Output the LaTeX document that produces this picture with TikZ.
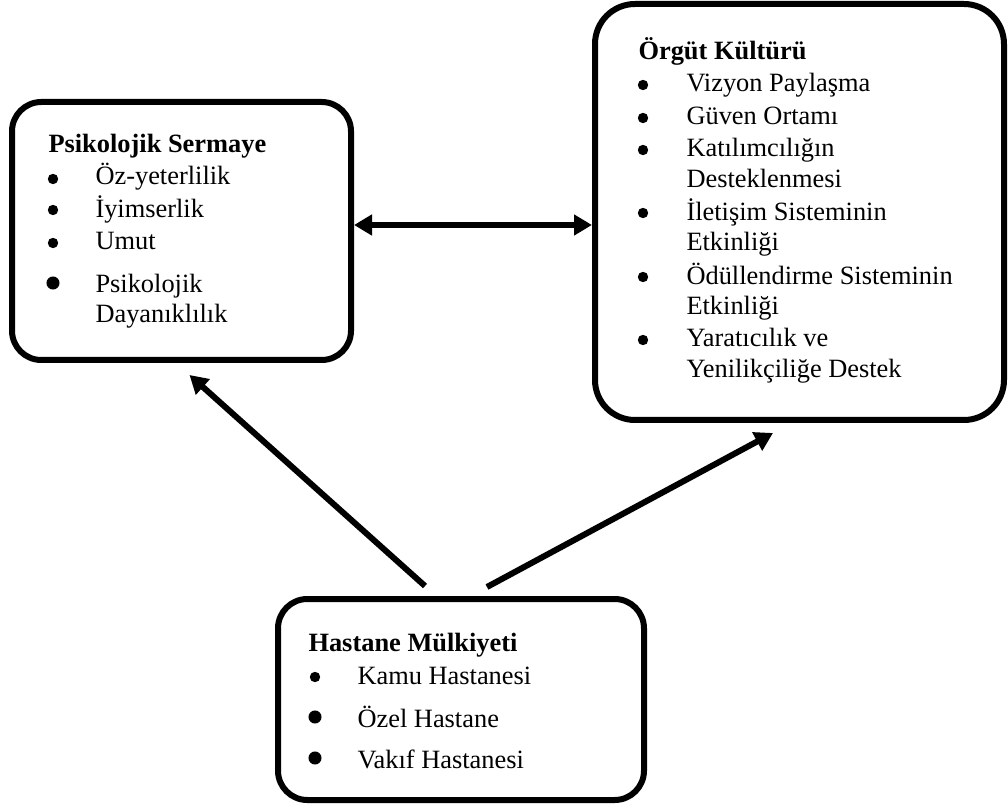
\documentclass[tikz,border=0pt]{standalone}
\usepackage{fontspec}
\setmainfont{Liberation Serif}
\usetikzlibrary{arrows.meta}

\tikzset{every picture/.style={line width=0.75pt}}
\tikzset{
  box/.style={draw, line width=4.5pt, rounded corners=22pt, inner sep=0pt},
  arr/.style={line width=4.5pt, -{Triangle[length=13.5pt,width=15pt]}},
  darr/.style={line width=4.5pt, {Triangle[length=13.5pt,width=15pt]}-{Triangle[length=13.5pt,width=15pt]}},
  txt/.style={anchor=base west, inner sep=0pt, font=\fontsize{19.8}{24}\selectfont},
  head/.style={txt, font=\fontsize{19.8}{24}\selectfont\bfseries},
  bul/.style={circle, fill, inner sep=0pt, minimum size=7.8pt},
  bigbul/.style={circle, fill, inner sep=0pt, minimum size=9.8pt}
}

\begin{document}
\begin{tikzpicture}[x=0.75pt,y=0.75pt,yscale=-1,xscale=1]
\useasboundingbox (0,0) rectangle (1008,809);

%Rounded Rect
\node [box, minimum width=254.25pt, minimum height=193.5pt] (psi) at (181.5,231) {};
%Rounded Rect
\node [box, rounded corners=30pt, minimum width=306.75pt, minimum height=312pt] (org) at (799.5,212) {};
%Rounded Rect
\node [box, minimum width=274.5pt, minimum height=150.75pt] (hst) at (461,699.5) {};

% Text Node
\node [head] (ps0) at (48,153) {Psikolojik Sermaye};
\node [bul] (psb1) at (53,179) {};
\node [txt] (ps1) at (95,185) {Öz-yeterlilik};
\node [bul] (psb2) at (53,210) {};
\node [txt] (ps2) at (95,218) {İyimserlik};
\node [bul] (psb3) at (53,243) {};
\node [txt] (ps3) at (95,250) {Umut};
\node [bigbul] (psb4) at (53,283) {};
\node [txt] (ps4) at (95,293) {Psikolojik};
\node [txt] (ps5) at (95,323) {Dayanıklılık};

% Text Node
\node [head] (ok0) at (638,60) {Örgüt Kültürü};
\node [bul] (okb1) at (643,85) {};
\node [txt] (ok1) at (686,92) {Vizyon Paylaşma};
\node [bul] (okb2) at (643,118) {};
\node [txt] (ok2) at (686,125) {Güven Ortamı};
\node [bul] (okb3) at (643,150) {};
\node [txt] (ok3) at (686,157) {Katılımcılığın};
\node [txt] (ok4) at (686,188) {Desteklenmesi};
\node [bul] (okb4) at (643,213) {};
\node [txt] (ok5) at (686,221) {İletişim Sisteminin};
\node [txt] (ok6) at (686,251) {Etkinliği};
\node [bul] (okb5) at (643,277) {};
\node [txt] (ok7) at (686,285) {Ödüllendirme Sisteminin};
\node [txt] (ok8) at (686,315) {Etkinliği};
\node [bul] (okb6) at (643,340) {};
\node [txt] (ok9) at (686,347) {Yaratıcılık ve};
\node [txt] (ok10) at (686,378) {Yenilikçiliğe Destek};

% Text Node
\node [head] (hm0) at (308,651) {Hastane Mülkiyeti};
\node [bul] (hmb1) at (315,677) {};
\node [txt] (hm1) at (357,684) {Kamu Hastanesi};
\node [bigbul] (hmb2) at (315,717) {};
\node [txt] (hm2) at (357,727) {Özel Hastane};
\node [bigbul] (hmb3) at (315,758) {};
\node [txt] (hm3) at (357,768) {Vakıf Hastanesi};

%Straight Lines
\draw [darr] ([shift={(0,-6)}]psi.east) -- ([shift={(0,13)}]org.west);
%Straight Lines
\draw [arr] ([shift={(-36,-10)}]hst.north) -- ([shift={(8,12)}]psi.south);
%Straight Lines
\draw [arr] ([shift={(26,-9)}]hst.north) -- ([shift={(-26.5,10)}]org.south);

\end{tikzpicture}
\end{document}
